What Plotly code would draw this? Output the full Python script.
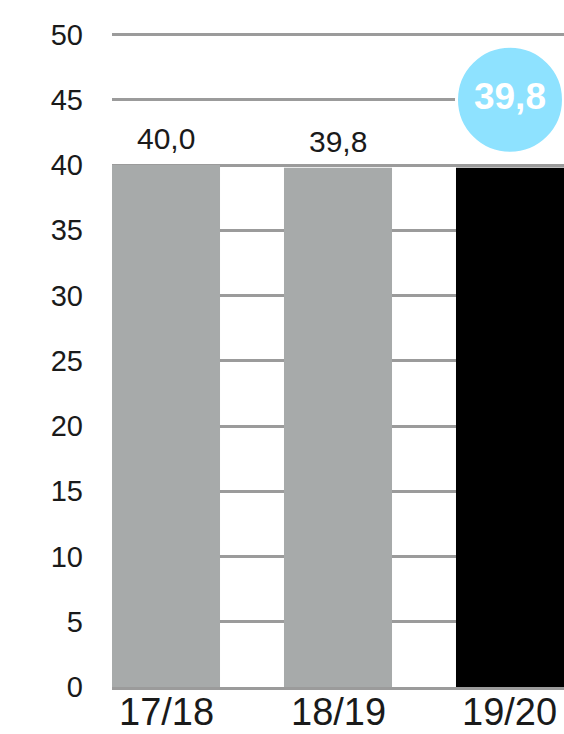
import plotly.graph_objects as go

# Season values (hours per week)
seasons = ["17/18", "18/19", "19/20"]
values = [40.0, 39.8, 39.8]
bar_colors = ["#a7aaaa", "#a7aaaa", "#000000"]
y_ticks = [0, 5, 10, 15, 20, 25, 30, 35, 40, 45, 50]

# Current season highlighted in a bubble
highlight_index = 2
bubble_y = 45


def fmt(v):
    return f"{v:.1f}".replace(".", ",")


FONT = "Liberation Sans, Arial, Helvetica, sans-serif"
GRID = "#9b9b9b"
TEXT = "#1a1a1a"
MARGIN_T, MARGIN_B, HEIGHT = 32, 47, 734
plot_h = HEIGHT - MARGIN_T - MARGIN_B

fig = go.Figure()

fig.add_trace(go.Bar(
    x=list(range(len(seasons))),
    y=values,
    marker=dict(color=bar_colors, line=dict(width=0)),
    width=0.628,
    hoverinfo="skip",
))

# Value labels above the earlier seasons
for i, v in enumerate(values):
    if i == highlight_index:
        continue
    fig.add_annotation(
        x=i, y=v, text=fmt(v), showarrow=False,
        yanchor="bottom", yshift=8,
        font=dict(family=FONT, size=30, color=TEXT),
    )

# Season labels along the bottom edge
for i, s in enumerate(seasons):
    fig.add_annotation(
        x=i, xref="x", y=-MARGIN_B / plot_h, yref="paper",
        text=s, showarrow=False, yanchor="bottom", borderpad=0,
        font=dict(family=FONT, size=38, color=TEXT),
    )

# Highlight bubble for the current season
fig.add_trace(go.Scatter(
    x=[highlight_index], y=[bubble_y],
    mode="markers+text",
    marker=dict(size=107, color="#8ee2ff", line=dict(color="white", width=3)),
    text=[fmt(values[highlight_index])],
    textposition="middle center",
    textfont=dict(family=FONT, size=37, color="white", weight="bold"),
    cliponaxis=False,
    hoverinfo="skip",
))

fig.update_layout(
    width=564, height=HEIGHT,
    margin=dict(l=112, r=0, t=MARGIN_T, b=MARGIN_B),
    paper_bgcolor="white", plot_bgcolor="white",
    showlegend=False,
    font=dict(family=FONT, color=TEXT),
)

fig.update_xaxes(
    range=[-0.314, 2.314],
    tickvals=list(range(len(seasons))),
    showticklabels=False,
    showgrid=False, zeroline=False,
    showline=True, linecolor=GRID, linewidth=3,
    ticks="",
    automargin=False,
    fixedrange=True,
)

fig.update_yaxes(
    range=[0, 50.2],
    tickvals=y_ticks,
    tickfont=dict(size=29, color=TEXT),
    showgrid=True, gridcolor=GRID, gridwidth=3,
    zeroline=False, showline=False,
    ticks="", ticklabelstandoff=28,
    automargin=False,
    fixedrange=True,
)

fig.write_html("out.html")
